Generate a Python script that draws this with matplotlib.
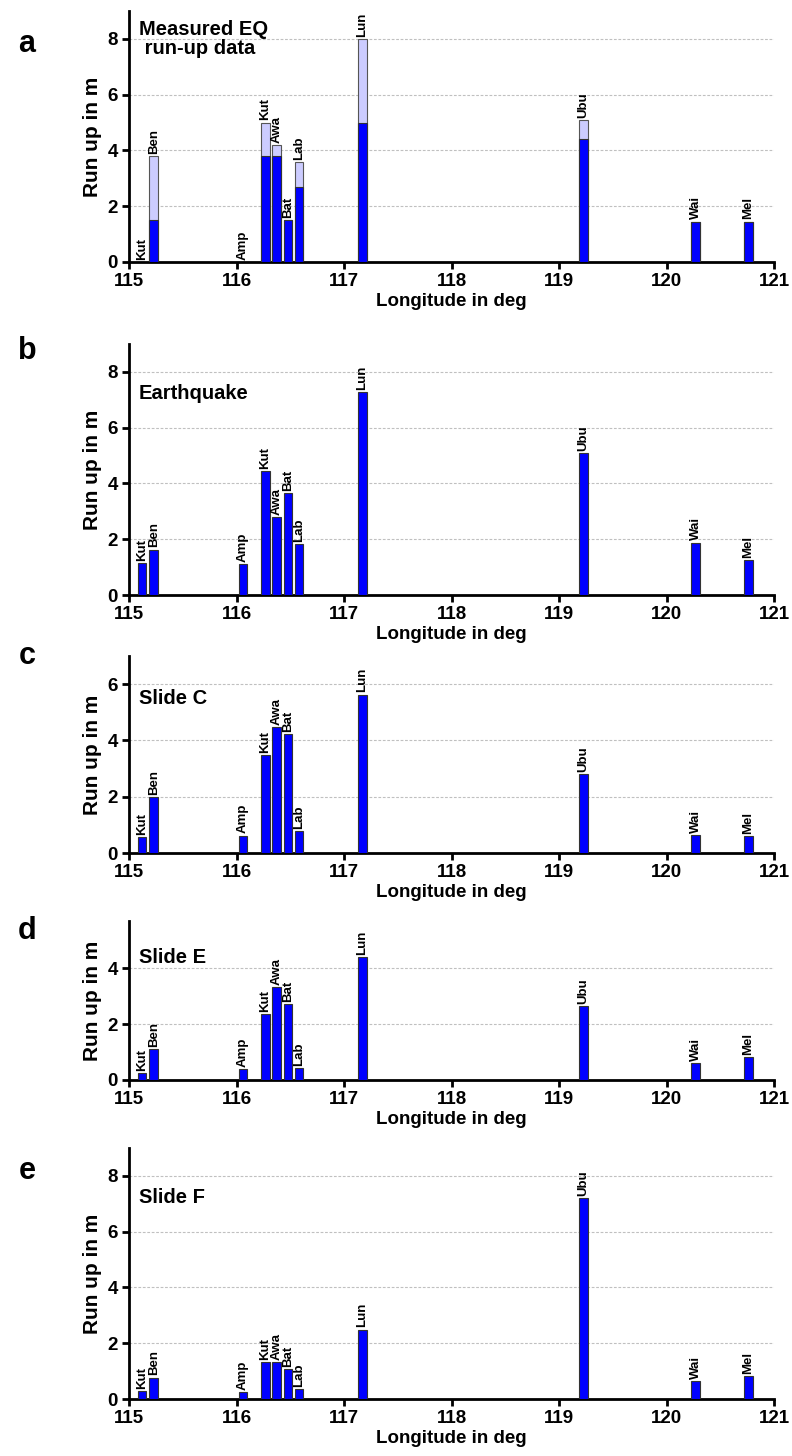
import matplotlib
matplotlib.use("Agg")
import matplotlib.pyplot as plt

plt.rcParams['font.family'] = ['Liberation Sans', 'DejaVu Sans']
plt.rcParams['font.weight'] = 'bold'

sites = ['Kut', 'Ben', 'Amp', 'Kut', 'Awa', 'Bat', 'Lab', 'Lun', 'Ubu', 'Wai', 'Mel']
lon = [115.12, 115.23, 116.06, 116.27, 116.37, 116.48, 116.58, 117.17, 119.23, 120.27, 120.76]

measured_low = [0, 1.5, 0, 3.8, 3.8, 1.5, 2.7, 5.0, 4.4, 1.45, 1.45]
measured_high = [0, 3.8, 0, 5.0, 4.2, 1.5, 3.6, 8.0, 5.1, 1.45, 1.45]
earthquake = [1.14, 1.63, 1.10, 4.43, 2.79, 3.66, 1.83, 7.28, 5.09, 1.88, 1.26]
slide_c = [0.57, 2.0, 0.62, 3.47, 4.46, 4.23, 0.77, 5.63, 2.82, 0.63, 0.59]
slide_e = [0.24, 1.10, 0.38, 2.36, 3.33, 2.71, 0.42, 4.42, 2.65, 0.62, 0.81]
slide_f = [0.30, 0.77, 0.25, 1.31, 1.31, 1.06, 0.36, 2.49, 7.22, 0.66, 0.81]

panel_letters = ['a', 'b', 'c', 'd', 'e']
panel_titles = ['Measured EQ\n run-up data', 'Earthquake', 'Slide C', 'Slide E', 'Slide F']
ymax = [9, 9, 7, 5.7, 9]
yticks = [[0, 2, 4, 6, 8], [0, 2, 4, 6, 8], [0, 2, 4, 6], [0, 2, 4], [0, 2, 4, 6, 8]]
xticks = [115, 116, 117, 118, 119, 120, 121]

W, H = 792, 1456
fig = plt.figure(figsize=(W / 100, H / 100), dpi=100)

# pixel bounds (top, bottom)
bounds = [(11, 262), (344, 595), (656, 853), (921, 1080), (1148, 1399)]
left_px, right_px = 129, 774
letter_y = [44, 351, 656, 931, 1171]
title_y = [20, 384, 689, 948, 1188]

BLUE = '#0000ff'
LIGHT = '#ccccff'
BW = 0.08

series = [None, earthquake, slide_c, slide_e, slide_f]

for i in range(5):
    top, bot = bounds[i]
    ax = fig.add_axes([left_px / W, 1 - bot / H, (right_px - left_px) / W, (bot - top) / H])
    ax.set_xlim(115, 121)
    ax.set_ylim(0, ymax[i])
    ax.set_axisbelow(True)
    for yv in yticks[i][1:]:
        ax.axhline(yv, color='#c0c0c0', lw=0.8, ls=(0, (2.5, 1.5)), zorder=0)
    if i == 0:
        ax.bar(lon, measured_high, width=BW, color=LIGHT, edgecolor='#555555', lw=0.8, zorder=2)
        ax.bar(lon, measured_low, width=BW, color=BLUE, edgecolor='#333333', lw=0.8, zorder=3)
        tops = [max(a, b) for a, b in zip(measured_low, measured_high)]
    else:
        vals = series[i]
        ax.bar(lon, vals, width=BW, color=BLUE, edgecolor='#333333', lw=0.8, zorder=3)
        tops = vals
    for x, t, s in zip(lon, tops, sites):
        ax.annotate(s, (x, t), xytext=(0, 1.5), textcoords='offset points',
                    rotation=90, ha='center', va='bottom', fontsize=9.5, fontweight='bold')
    for sp in ['top', 'right']:
        ax.spines[sp].set_visible(False)
    for sp in ['left', 'bottom']:
        ax.spines[sp].set_linewidth(2)
    ax.set_xticks(xticks)
    ax.set_yticks(yticks[i])
    ax.tick_params(direction='out', length=5, width=2, labelsize=13.5, pad=3)
    for lab in ax.get_xticklabels() + ax.get_yticklabels():
        lab.set_fontweight('bold')
    ax.set_xlabel('Longitude in deg', fontsize=13.5, fontweight='bold', labelpad=2)
    ax.set_ylabel('Run up in m', fontsize=15, fontweight='bold', labelpad=4)
    fig.text(27 / W, 1 - letter_y[i] / H, panel_letters[i], fontsize=22, fontweight='bold',
             ha='center', va='center')
    fig.text(139 / W, 1 - title_y[i] / H, panel_titles[i], fontsize=14.5, fontweight='bold',
             ha='left', va='top', linespacing=1.0)

fig.savefig('out.png', dpi=100)
